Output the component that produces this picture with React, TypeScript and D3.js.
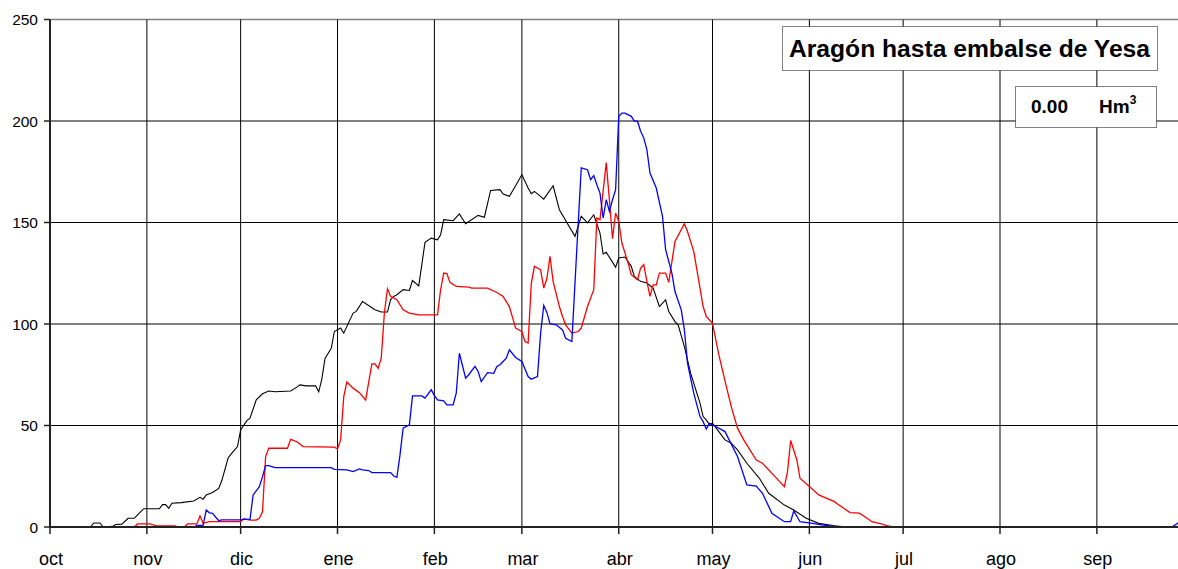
import React from 'react';
import * as d3 from 'd3';

// day index counted from 1 October, value in Hm3
const monthLabels = ['oct', 'nov', 'dic', 'ene', 'feb', 'mar', 'abr', 'may', 'jun', 'jul', 'ago', 'sep'];
const monthStarts = [0, 31, 61, 92, 123, 151, 182, 212, 243, 273, 304, 335];
const yTicks = [0, 50, 100, 150, 200, 250];

const blackSeries: [number, number][] = [
  [0, 0], [13, 0], [14, 2], [16, 2], [17, 0], [20, 0.3], [21, 1.2], [23, 1.4], [25, 4.3], [27, 4.3], [28, 6],
  [30, 9], [35, 9], [36, 11], [37, 11], [38, 9.2], [39, 11.7], [42, 12], [46, 12.8], [48, 14.6], [49, 13.7],
  [50, 15.8], [52, 17], [54, 19], [55, 23], [57, 34], [58, 36], [60, 39.6], [61, 47.8], [63, 52.4], [64, 53.6],
  [66, 62.6], [68, 65.6], [70, 67], [72, 66.6], [77, 67], [79, 68.9], [80, 70], [82, 69.5], [85, 69.5], [86, 66.6],
  [87, 73], [88, 83], [90, 88], [91, 96.3], [93, 98], [94, 95.5], [97, 105.4], [98, 106.2], [100, 111.1],
  [104, 107], [106, 105.9], [108, 105.9], [109, 112], [110, 113.6], [111, 114.4], [113, 116.9], [115, 116.5],
  [116, 121.4], [118, 118.8], [120, 140.2], [122, 142.3], [124, 141.5], [125, 144], [126, 151.4], [129, 150.9],
  [131, 154.2], [133, 149.4], [137, 153.5], [139, 152.6], [141, 165.8], [144, 166.2], [145, 164], [147, 162.9],
  [149, 168.1], [151, 173.6], [153, 167], [154, 164.2], [155, 165.3], [157, 162.9], [158, 161.5], [161, 168.1],
  [163, 156.3], [168, 143.2], [170, 153], [172, 149.8], [174, 153.8], [176, 144.8], [177, 134.5], [178, 135.3],
  [181, 128], [182, 132.5], [184, 133], [186, 128.4], [187, 123.4], [189, 121], [191, 120.2], [193, 117.7],
  [195, 108.6], [197, 111.9], [198, 106.2], [200, 101.2], [201, 99.6], [203, 88.9], [205, 75.8], [208, 61],
  [209, 54.4], [210, 52.8], [211, 50.6], [212, 51.1], [216, 42.9], [218, 41.3], [220, 38], [223, 31.4],
  [227, 24], [230, 16.6], [235, 10.8], [238, 8.4], [242, 4.3], [246, 1.8], [251, 0.6], [255, 0], [365, 0]
];

const redSeries: [number, number][] = [
  [0, 0], [27, 0], [28, 1.5], [32, 1.5], [34, 0.6], [40, 0.6], [41, 0], [43, 0], [44, 1.5], [47, 1.5], [48, 5.4],
  [49, 1.8], [51, 2.6], [61, 2.6], [62, 4.1], [64, 3.4], [66, 3.4], [67, 4.3], [68, 7.5], [69, 34.7], [70, 38.8],
  [76, 38.8], [77, 43.2], [79, 42], [81, 39.6], [91, 39.3], [92, 38.5], [93, 42.9], [94, 64.2], [95, 71.4],
  [97, 68.4], [99, 66.2], [101, 62.6], [103, 80.4], [104, 80.4], [105, 78.2], [106, 83.2], [107, 105.4],
  [108, 117.4], [109, 113.6], [111, 112], [113, 107], [115, 105.4], [118, 104.5], [124, 104.5], [125, 117],
  [126, 125.1], [127, 124.8], [128, 120.5], [130, 118.5], [134, 118.2], [135, 117.7], [140, 117.7], [143, 115.5],
  [145, 113.6], [147, 108.6], [149, 98], [151, 96.3], [152, 91.4], [153, 90.6], [154, 119.8], [155, 128.4],
  [157, 126.7], [158, 117.7], [159, 122.3], [160, 133.3], [161, 121], [163, 108.6], [164, 103.7], [165, 99.6],
  [167, 95.5], [169, 96.3], [170, 98], [172, 108.6], [174, 116.9], [175, 152.2], [176, 151.4], [178, 179.5],
  [179, 161.2], [180, 142], [181, 154.7], [182, 150.5], [183, 139.9], [185, 130], [186, 124.3], [188, 121.8],
  [189, 127.6], [190, 129.2], [191, 121], [192, 113.6], [193, 119.3], [194, 119.3], [195, 125.1], [197, 125.1],
  [198, 120.5], [200, 140.7], [203, 149.4], [204, 145.6], [206, 135.8], [209, 108.6], [210, 103.7], [212, 100.4],
  [214, 85], [216, 72], [218, 59.3], [220, 48.7], [222, 42.9], [226, 33], [228, 31.4], [232, 24.8], [235, 19.9],
  [236, 27.3], [237, 42.6], [239, 33], [240, 24], [243, 19.9], [246, 15.8], [251, 12.5], [252, 11.3], [254, 9.2],
  [256, 7.1], [259, 6.8], [261, 4.8], [263, 2.6], [266, 1.5], [268, 0.6], [270, 0], [365, 0]
];

const blueSeries: [number, number][] = [
  [0, 0], [46, 0], [47, 0.8], [49, 0.8], [50, 8.4], [51, 7], [52, 6.7], [54, 3.1], [55, 3.5], [61, 3.5], [62, 3.8],
  [64, 3.8], [65, 15.8], [67, 19.9], [68, 24.8], [69, 30.2], [70, 30.2], [72, 29.2], [90, 29.2], [91, 28.4],
  [95, 28.1], [97, 27.3], [99, 28.6], [100, 28.1], [102, 27.8], [103, 26.8], [109, 26.8], [110, 25.1], [111, 24.5],
  [112, 35.5], [113, 48.7], [115, 50.3], [116, 64.6], [119, 64.6], [120, 63.5], [122, 67.6], [123, 64.7],
  [124, 62.6], [126, 62.1], [127, 60.2], [129, 60.2], [130, 65.9], [131, 85.6], [133, 73.3], [134, 75], [136, 79.1],
  [137, 76.6], [138, 71.6], [140, 76], [142, 75.7], [143, 79.1], [144, 79.9], [146, 83.2], [147, 87.3], [149, 83.5],
  [151, 81.5], [153, 74.1], [154, 72.8], [156, 74.1], [157, 95.5], [158, 109.1], [159, 105.7], [160, 100.1],
  [162, 99.6], [164, 97.1], [165, 93], [167, 91.4], [168, 120.2], [169, 148.9], [170, 176.9], [172, 176],
  [173, 171.1], [174, 173.1], [175, 168.6], [176, 164.5], [177, 152.2], [178, 161.2], [179, 155.5], [180, 161.2],
  [181, 166.2], [182, 202.3], [183, 203.9], [184, 203.9], [186, 202.3], [187, 199.9], [188, 199.9], [189, 195],
  [190, 191.7], [191, 185.9], [192, 174.4], [194, 167], [196, 153], [197, 136.6], [199, 125.1], [200, 116],
  [202, 107], [203, 97.1], [204, 80.7], [206, 65.9], [208, 54.4], [209, 51.9], [210, 48.3], [211, 51.1],
  [213, 49.5], [216, 47], [220, 34.7], [223, 20.7], [226, 20.2], [228, 16.6], [231, 6.8], [235, 2.6], [237, 2.6],
  [238, 7.9], [240, 2.6], [244, 1.8], [248, 0.8], [251, 0.3], [253, 0], [359, 0], [361, 2], [365, 2]
];

const title = 'Aragón hasta embalse de Yesa';
const currentValue = '0.00';

const W = 1178;
const H = 569;

export default function App() {
  const x = d3.scaleLinear().domain([0, 365]).range([50, 50 + 365 * 3.125]);
  const y = d3.scaleLinear().domain([0, 250]).range([527, 19.5]);
  const line = d3
    .line<[number, number]>()
    .x((d) => x(d[0]))
    .y((d) => y(d[1]));

  const font = 'Arial, "Liberation Sans", Helvetica, sans-serif';

  return (
    <div style={{ position: 'absolute', left: 0, top: 0, background: '#fff' }}>
      <svg width={W} height={H} style={{ display: 'block', fontFamily: font }}>
        <rect width={W} height={H} fill="#fff" />
        {/* horizontal grid */}
        {yTicks.slice(1).map((t) => (
          <line
            key={'h' + t}
            x1={x(0)}
            x2={W}
            y1={y(t)}
            y2={y(t)}
            stroke={t === 250 ? '#808080' : '#000'}
            strokeWidth={t === 250 ? 1.5 : 1}
          />
        ))}
        {/* vertical grid */}
        {monthStarts.slice(1).map((d) => (
          <line key={'v' + d} x1={x(d)} x2={x(d)} y1={y(250)} y2={y(0)} stroke="#000" strokeWidth={1} />
        ))}
        {/* series */}
        <path d={line(blackSeries) || ''} fill="none" stroke="#000" strokeWidth={1.1} />
        <path d={line(redSeries) || ''} fill="none" stroke="#ff0000" strokeWidth={1.3} />
        <path d={line(blueSeries) || ''} fill="none" stroke="#0000ff" strokeWidth={1.3} />
        {/* axes */}
        <line x1={x(0)} x2={x(0)} y1={y(250)} y2={y(0) + 1} stroke="#222" strokeWidth={2} />
        <line x1={x(0)} x2={W} y1={y(0)} y2={y(0)} stroke="#222" strokeWidth={2} />
        {yTicks.map((t) => (
          <g key={'yt' + t}>
            <line x1={x(0) - 6} x2={x(0)} y1={y(t)} y2={y(t)} stroke="#222" strokeWidth={1.5} />
            <text x={38} y={y(t)} dy="0.36em" textAnchor="end" fontSize={15.5} fill="#000">
              {t}
            </text>
          </g>
        ))}
        {monthStarts.map((d, i) => (
          <g key={'xt' + d}>
            <line x1={x(d)} x2={x(d)} y1={y(0)} y2={y(0) + 7} stroke="#222" strokeWidth={1.5} />
            <text x={x(d) + 1} y={565} textAnchor="middle" fontSize={18} fill="#000">
              {monthLabels[i]}
            </text>
          </g>
        ))}
        {/* title box */}
        <rect x={782.5} y={26.5} width={375} height={44} fill="#fff" stroke="#000" strokeWidth={1} strokeDasharray="1,1" />
        <text x={789} y={57} fontSize={23} fontWeight="bold" textLength={361} lengthAdjust="spacingAndGlyphs" fill="#000">
          {title}
        </text>
        {/* value box */}
        <rect x={1015.5} y={86.5} width={141} height={41} fill="#fff" stroke="#000" strokeWidth={1} strokeDasharray="1,1" />
        <text x={1031} y={113} fontSize={19} fontWeight="bold" fill="#000">
          {currentValue}
        </text>
        <text x={1099} y={113} fontSize={19} fontWeight="bold" fill="#000">
          Hm
          <tspan dy={-9} fontSize={12}>
            3
          </tspan>
        </text>
      </svg>
    </div>
  );
}
